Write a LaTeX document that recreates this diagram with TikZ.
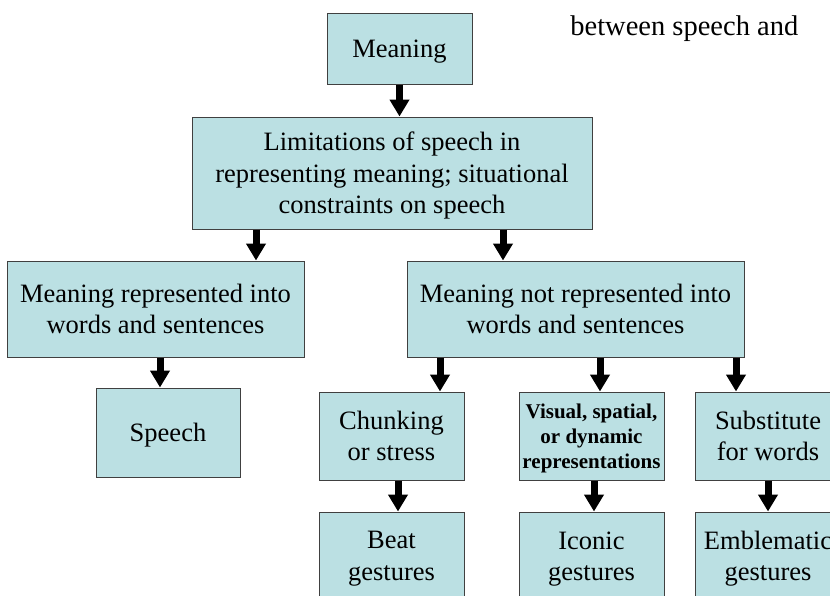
\documentclass[tikz,border=0pt]{standalone}
\usepackage{fontspec}
\setmainfont{Liberation Serif}
\usetikzlibrary{arrows.meta}
\definecolor{boxfill}{RGB}{187,224,227}
\definecolor{boxline}{RGB}{64,64,64}
\tikzset{
    flow-box/.style = {draw=boxline, fill=boxfill, line width=0.5pt, rectangle, align=center, inner sep=0pt, text depth=0pt, minimum width=72.5pt, minimum height=44pt, font=\fontsize{13.25}{15.75}\selectfont},
    flow-box-bold/.style = {flow-box, font=\fontsize{10.5}{12.5}\selectfont\bfseries},
    flow-arrow/.style = {line width=3.5pt, -{Triangle[width=9.5pt,length=8.5pt]}},
}

\begin{document}
\begin{tikzpicture}[x=0.5pt, y=-0.5pt]
\clip (0,0) rectangle (830,595);
\node[anchor=base west, inner sep=0pt, font=\fontsize{14.25}{17}\selectfont] (title) at (570,35) {between speech and};

\node[flow-box, minimum height=35.5pt] (meaning) at (399.5,48.5) {Meaning};
\node[flow-box, minimum width=200pt, minimum height=56pt] (limits) at (392,173) {Limitations of speech in\\representing meaning; situational\\constraints on speech};
\node[flow-box, minimum width=148.5pt, minimum height=48pt] (repr) at (155.5,309) {Meaning represented into\\words and sentences};
\node[flow-box, minimum width=168.5pt, minimum height=48pt] (notrepr) at (575.5,309) {Meaning not represented into\\words and sentences};
\node[flow-box, minimum width=72pt, minimum height=44.5pt] (speech) at (168,432.5) {Speech};
\node[flow-box] (chunk) at (391.5,436) {Chunking\\or stress};
\node[flow-box-bold] (visual) at (591.5,436) {Visual, spatial,\\or dynamic\\representations};
\node[flow-box] (subst) at (768,436) {Substitute\\for words};
\node[flow-box] (beat) at (391.5,556) {Beat\\gestures};
\node[flow-box] (iconic) at (591.5,556) {Iconic\\gestures};
\node[flow-box] (emblem) at (768,556) {Emblematic\\gestures};

\draw[flow-arrow] (meaning.south) -- (meaning.south |- limits.north);
\draw[flow-arrow] ([xshift=-68pt]limits.south) -- ([xshift=-68pt]limits.south |- repr.north);
\draw[flow-arrow] ([xshift=55.5pt]limits.south) -- ([xshift=55.5pt]limits.south |- notrepr.north);
\draw[flow-arrow] ([xshift=-4pt]speech.north |- repr.south) -- ([xshift=-4pt]speech.north);
\draw[flow-arrow] ([xshift=24.25pt]chunk.north |- notrepr.south) -- ([xshift=24.25pt]chunk.north);
\draw[flow-arrow] ([xshift=4.25pt]visual.north |- notrepr.south) -- ([xshift=4.25pt]visual.north);
\draw[flow-arrow] ([xshift=-16pt]subst.north |- notrepr.south) -- ([xshift=-16pt]subst.north);
\draw[flow-arrow] ([xshift=3.25pt]chunk.south) -- ([xshift=3.25pt]chunk.south |- beat.north);
\draw[flow-arrow] ([xshift=1.25pt]visual.south) -- ([xshift=1.25pt]visual.south |- iconic.north);
\draw[flow-arrow] (subst.south) -- (emblem.north);
\end{tikzpicture}
\end{document}
